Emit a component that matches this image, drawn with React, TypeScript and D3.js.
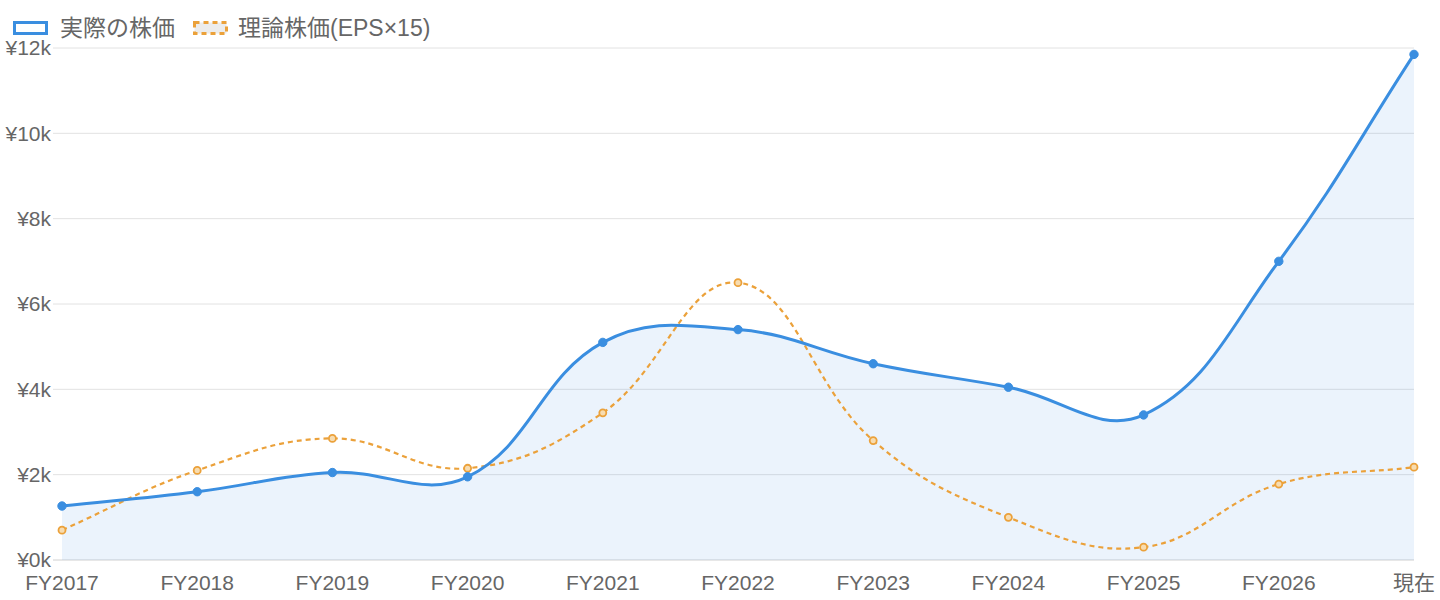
import React from "react";
import * as d3 from "d3";

const categories = ["FY2017","FY2018","FY2019","FY2020","FY2021","FY2022","FY2023","FY2024","FY2025","FY2026","現在"];
const actualPrice = [1265,1600,2050,1950,5100,5400,4600,4050,3400,7000,11850];
const theoreticalPrice = [700,2100,2850,2150,3450,6500,2800,1000,300,1780,2175];
const yTicks = [0,2000,4000,6000,8000,10000,12000];
const seriesNames = ["実際の株価","理論株価(EPS×15)"];

const W = 1440, H = 600;
const L = 62, R = 1414, T = 48, B = 560;
const FONT = "'Liberation Sans', Arial, 'Noto Sans CJK JP', sans-serif";
const BLUE = "#3a8ee0";
const ORANGE = "#eba13a";

type P = { x: number; y: number };

function splinePath(pts: P[], t = 0.4, closeTo?: number): string {
  const cps = pts.map((cur, i) => {
    const prev = pts[i - 1] || cur;
    const next = pts[i + 1] || cur;
    const d01 = Math.hypot(cur.x - prev.x, cur.y - prev.y);
    const d12 = Math.hypot(next.x - cur.x, next.y - cur.y);
    let s01 = d01 / (d01 + d12), s12 = d12 / (d01 + d12);
    if (isNaN(s01)) s01 = 0;
    if (isNaN(s12)) s12 = 0;
    const fa = t * s01, fb = t * s12;
    const clampY = (v: number) => Math.max(T, Math.min(B, v));
    const clampX = (v: number) => Math.max(L, Math.min(R, v));
    return {
      c1x: clampX(cur.x - fa * (next.x - prev.x)),
      c1y: clampY(cur.y - fa * (next.y - prev.y)),
      c2x: clampX(cur.x + fb * (next.x - prev.x)),
      c2y: clampY(cur.y + fb * (next.y - prev.y)),
    };
  });
  const p = d3.path();
  p.moveTo(pts[0].x, pts[0].y);
  for (let i = 1; i < pts.length; i++) {
    p.bezierCurveTo(cps[i - 1].c2x, cps[i - 1].c2y, cps[i].c1x, cps[i].c1y, pts[i].x, pts[i].y);
  }
  if (closeTo !== undefined) {
    p.lineTo(pts[pts.length - 1].x, closeTo);
    p.lineTo(pts[0].x, closeTo);
    p.closePath();
  }
  return p.toString();
}

export default function App() {
  const x = d3.scalePoint<string>().domain(categories).range([L, R]);
  const y = d3.scaleLinear().domain([0, 12000]).range([B, T]);
  const aPts = actualPrice.map((v, i) => ({ x: x(categories[i])!, y: y(v) }));
  const tPts = theoreticalPrice.map((v, i) => ({ x: x(categories[i])!, y: y(v) }));
  const fmt = (v: number) => `¥${v / 1000}k`;

  return (
    <div style={{ position: "absolute", left: 0, top: 0 }}>
      <svg width={W} height={H} style={{ display: "block", fontFamily: FONT }}>
        <rect width={W} height={H} fill="#fff" />
        {yTicks.map((v) => (
          <g key={v}>
            <line x1={L - 9} x2={R} y1={y(v)} y2={y(v)} stroke={v === 0 ? "#d0d0d0" : "#e2e2e2"} strokeWidth={1} />
            <text x={L - 11} y={y(v)} dy="0.35em" textAnchor="end" fontSize={21} fill="#666">{fmt(v)}</text>
          </g>
        ))}
        {categories.map((c) => (
          <text key={c} x={x(c)!} y={590} textAnchor="middle" fontSize={21} fill="#666">{c}</text>
        ))}
        <path d={splinePath(aPts, 0.4, B)} fill="#3a8ee0" fillOpacity={0.1} stroke="none" />
        <path d={splinePath(tPts)} fill="none" stroke={ORANGE} strokeWidth={2.2} strokeDasharray="5,4" />
        <path d={splinePath(aPts)} fill="none" stroke={BLUE} strokeWidth={3} />
        {tPts.map((p, i) => (
          <circle key={i} cx={p.x} cy={p.y} r={3.5} fill="#f7dcb0" stroke={ORANGE} strokeWidth={1.8} />
        ))}
        {aPts.map((p, i) => (
          <circle key={i} cx={p.x} cy={p.y} r={4.2} fill={BLUE} stroke={BLUE} strokeWidth={1} />
        ))}
        <g>
          <rect x={14.5} y={22.5} width={32} height={11} fill="#fff" stroke={BLUE} strokeWidth={3} />
          <text x={60} y={28} dy="0.35em" fontSize={23} fill="#666">{seriesNames[0]}</text>
          <rect x={194.5} y={22.5} width={32} height={11} fill="#ececec" stroke={ORANGE} strokeWidth={3} strokeDasharray="5,4" />
          <text x={238} y={28} dy="0.35em" fontSize={23} fill="#666">{seriesNames[1]}</text>
        </g>
      </svg>
    </div>
  );
}
